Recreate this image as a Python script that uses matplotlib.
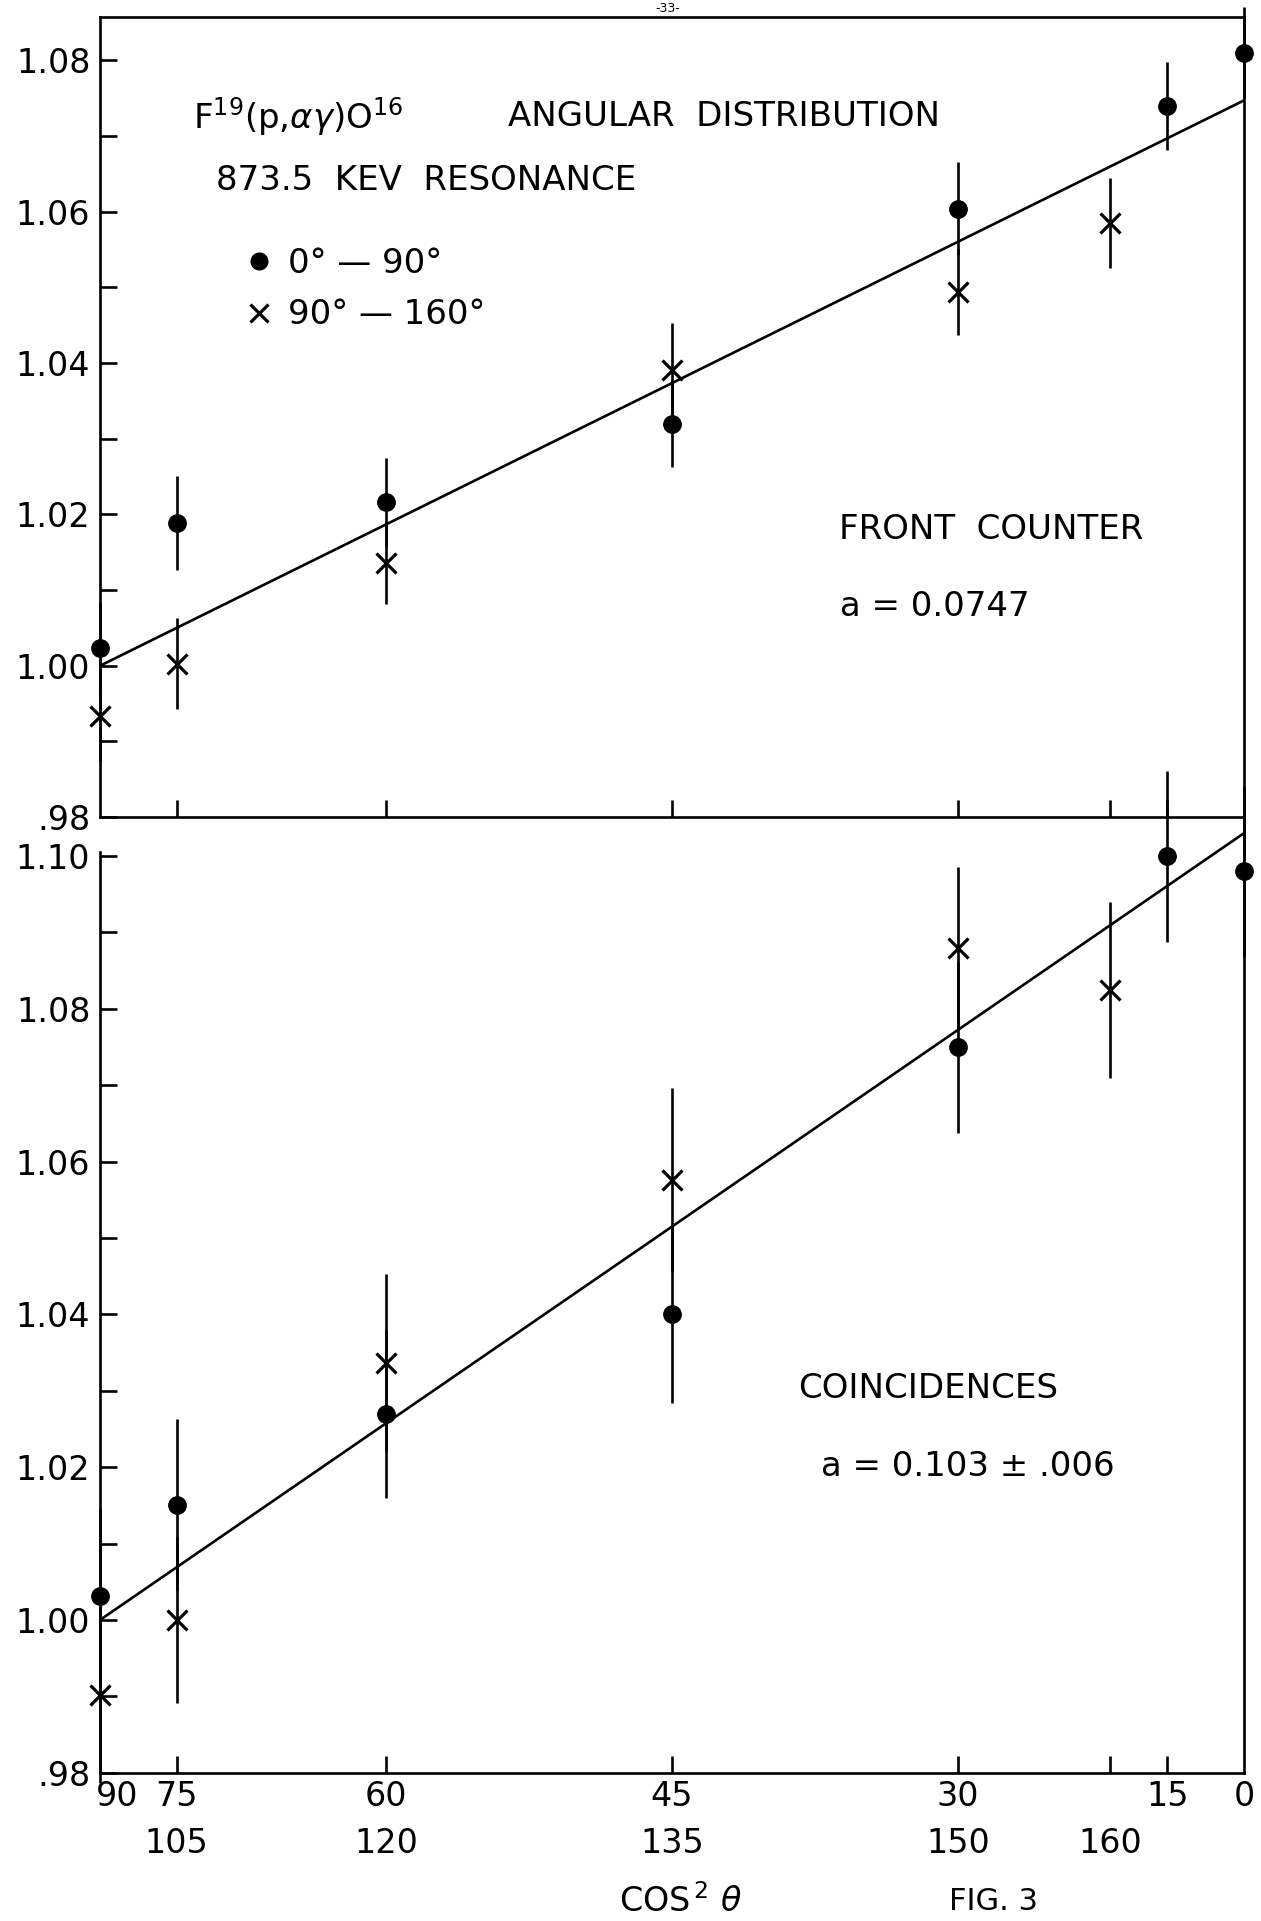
import numpy as np
import matplotlib
matplotlib.use('Agg')
import matplotlib.pyplot as plt
from matplotlib.ticker import MultipleLocator, FixedLocator, FixedFormatter
from matplotlib.lines import Line2D

plt.rcParams['font.family'] = ['DejaVu Sans']
plt.rcParams['mathtext.fontset'] = 'dejavusans'

# ---------------- data ----------------
dot_angles = [90, 75, 60, 45, 30, 15, 0]          # 0-90 deg points
cross_angles = [90, 105, 120, 135, 150, 160]      # 90-160 deg points

front_dot = [1.0024, 1.0189, 1.0216, 1.0320, 1.0604, 1.0740, 1.0810]
front_dot_err = [0.006, 0.0062, 0.0058, 0.0057, 0.0061, 0.0058, 0.006]
front_cross = [0.9934, 1.0003, 1.0136, 1.0391, 1.0494, 1.0585]
front_cross_err = [0.006, 0.006, 0.0055, 0.0062, 0.0057, 0.0059]

coinc_dot = [1.0032, 1.0151, 1.0270, 1.0400, 1.0750, 1.1000, 1.0980]
coinc_dot_err = [0.0115, 0.0112, 0.0110, 0.0116, 0.0112, 0.0112, 0.0112]
coinc_cross = [0.9902, 1.0000, 1.0337, 1.0576, 1.0880, 1.0825]
coinc_cross_err = [0.0115, 0.0109, 0.0116, 0.0120, 0.0106, 0.0115]

a_front = 0.0747
a_coinc = 0.103
fit_x = [0.0, 1.0]

tick_angles = [75, 60, 45, 30, 160, 15]
row1_angles = [90, 75, 60, 45, 30, 15, 0]
row1_labels = ['90', '75', '60', '45', '30', '15', '0']
row2_angles = [105, 120, 135, 150, 160]
row2_labels = ['105', '120', '135', '150', '160']

front_yticks = [0.98, 1.00, 1.02, 1.04, 1.06, 1.08]
front_ylabels = ['.98', '1.00', '1.02', '1.04', '1.06', '1.08']
coinc_yticks = [0.98, 1.00, 1.02, 1.04, 1.06, 1.08, 1.10]
coinc_ylabels = ['.98', '1.00', '1.02', '1.04', '1.06', '1.08', '1.10']


def cos2(angles):
    return np.cos(np.radians(np.asarray(angles, dtype=float))) ** 2


LW = 1.9
FS = 24
TFS = 24.5
fig = plt.figure(figsize=(12.61, 19.21), dpi=100)

left, width = 0.0793, 0.9072
ax1 = fig.add_axes([left, 0.57462, width, 0.41645])
ax2 = fig.add_axes([left, 0.07717, width, 0.49745])
ax2.patch.set_alpha(0)


def draw_panel(ax, dots, dots_err, crosses, crosses_err, a):
    xd = cos2(dot_angles)
    xc = cos2(cross_angles)
    fx = np.asarray(fit_x)
    ax.plot(fx, 1.0 + a * fx, color='black', lw=LW, zorder=2)
    for x, y, e, kw in [(xd, dots, dots_err, dict(marker='o', ms=12.5)),
                        (xc, crosses, crosses_err, dict(marker='x', ms=15, mew=2.3))]:
        eb = ax.errorbar(x, y, yerr=e, fmt='none', ecolor='black',
                         elinewidth=LW, capsize=0, zorder=3)
        for coll in eb.lines[2]:
            coll.set_clip_on(False)
        ax.plot(x, y, ls='none', color='black', mfc='black', mec='black',
                clip_on=False, zorder=4, **kw)
    ax.set_xlim(0, 1)
    for s in ax.spines.values():
        s.set_linewidth(LW)
    ax.xaxis.set_major_locator(FixedLocator(cos2(tick_angles)))
    ax.tick_params(axis='x', direction='in', length=12, width=LW,
                   labelbottom=False, top=False)
    ax.tick_params(axis='y', which='both', direction='in', length=12,
                   width=LW, labelsize=FS, pad=7, right=False)
    ax.yaxis.set_minor_locator(MultipleLocator(0.01))


draw_panel(ax1, front_dot, front_dot_err, front_cross, front_cross_err, a_front)
draw_panel(ax2, coinc_dot, coinc_dot_err, coinc_cross, coinc_cross_err, a_coinc)

ax1.set_ylim(0.98, 1.0857)
ax1.yaxis.set_major_locator(FixedLocator(front_yticks))
ax1.yaxis.set_major_formatter(FixedFormatter(front_ylabels))

ax2.set_ylim(0.98, 1.1051)
ax2.yaxis.set_major_locator(FixedLocator(coinc_yticks))
ax2.yaxis.set_major_formatter(FixedFormatter(coinc_ylabels))
ax2.spines['top'].set_visible(False)
ax2.spines['left'].set_bounds(0.98, 1.1006)

# x tick labels (two rows of angles)
for ang, lab in zip(row1_angles, row1_labels):
    ha = 'left' if ang == 90 else 'center'
    dx = -3 if ang == 90 else 0
    ax2.annotate(lab, xy=(cos2([ang])[0], 0), xycoords=('data', 'axes fraction'),
                 xytext=(dx, -17), textcoords='offset points',
                 ha=ha, va='center', fontsize=FS, annotation_clip=False)
for ang, lab in zip(row2_angles, row2_labels):
    ax2.annotate(lab, xy=(cos2([ang])[0], 0), xycoords=('data', 'axes fraction'),
                 xytext=(0, -51), textcoords='offset points',
                 ha='center', va='center', fontsize=FS, annotation_clip=False)

# panel texts
ax1.text(0.1736, 0.876, r'F$^{19}$(p,$\alpha\gamma$)O$^{16}$', transform=ax1.transAxes,
         ha='center', va='center', fontsize=TFS)
ax1.text(0.5456, 0.876, 'ANGULAR  DISTRIBUTION', transform=ax1.transAxes,
         ha='center', va='center', fontsize=TFS)
ax1.text(0.285, 0.796, '873.5  KEV  RESONANCE', transform=ax1.transAxes,
         ha='center', va='center', fontsize=TFS)
ax1.text(0.779, 0.360, 'FRONT  COUNTER', transform=ax1.transAxes,
         ha='center', va='center', fontsize=TFS)
ax1.text(0.730, 0.263, 'a = 0.0747', transform=ax1.transAxes,
         ha='center', va='center', fontsize=TFS)

handles = [Line2D([], [], ls='none', marker='o', ms=12, color='black'),
           Line2D([], [], ls='none', marker='x', ms=13, mew=2.3, color='black')]
ax1.legend(handles, ['0° — 90°', '90° — 160°'], loc='upper left',
           bbox_to_anchor=(0.124, 0.713), frameon=False, fontsize=TFS,
           borderpad=0, borderaxespad=0, handlelength=1.0,
           handletextpad=0.35, labelspacing=0.55)

ax2.text(0.7235, 0.4026, 'COINCIDENCES', transform=ax2.transAxes,
         ha='center', va='center', fontsize=TFS)
ax2.text(0.759, 0.3205, 'a = 0.103 ± .006', transform=ax2.transAxes,
         ha='center', va='center', fontsize=TFS)

fig.text(0.540, 0.0102, r'COS$^{\,2}$ $\theta$', ha='center', va='center', fontsize=FS)
fig.text(0.788, 0.0102, 'FIG. 3', ha='center', va='center', fontsize=FS - 2)
fig.text(0.5296, 0.9958, '-33-', ha='center', va='center', fontsize=9)

fig.savefig('out.png', dpi=100, facecolor='white')
